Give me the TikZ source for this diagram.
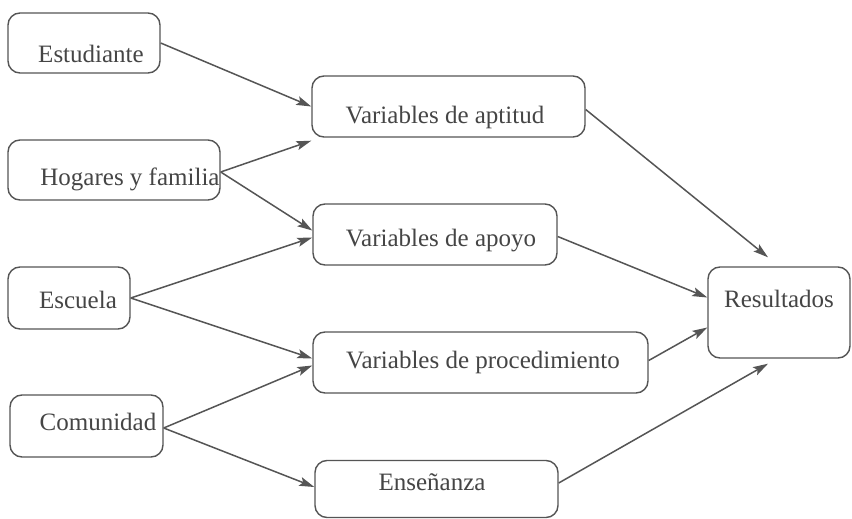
\documentclass[tikz,border=0pt]{standalone}
\usepackage{fontspec}
\setmainfont{Liberation Serif}
\usetikzlibrary{arrows.meta}
\definecolor{ink}{HTML}{454545}
\definecolor{edge}{HTML}{555555}
\begin{document}
\begin{tikzpicture}[x=1pt,y=-1pt,
  box/.style={draw=edge,line width=1.4pt,rounded corners=12pt,inner sep=0pt,fill=white},
  lbl/.style={anchor=base,inner sep=0pt,text=ink,font=\fontsize{25}{30}\selectfont},
  arr/.style={draw=edge,line width=1.5pt,-{Stealth[length=15pt,width=9pt,inset=3pt]}}]
\useasboundingbox[fill=white] (0,0) rectangle (852,519);
% boxes
\node[box,minimum width=152pt,minimum height=60pt] (est) at (84,43) {};
\node[box,minimum width=212pt,minimum height=60pt] (hog) at (114,170) {};
\node[box,minimum width=122pt,minimum height=62pt] (esc) at (69,298) {};
\node[box,minimum width=153pt,minimum height=62pt] (com) at (86.5,426) {};
\node[box,minimum width=273pt,minimum height=61pt] (apt) at (448.5,106.5) {};
\node[box,minimum width=244pt,minimum height=61pt] (apo) at (435,234.5) {};
\node[box,minimum width=335pt,minimum height=61pt] (proc) at (480.5,362.5) {};
\node[box,minimum width=243pt,minimum height=57pt] (ens) at (436.5,489) {};
\node[box,minimum width=142pt,minimum height=91pt] (res) at (779,312.5) {};
% labels
\node[lbl] (tEst) at (91,63) {Estudiante};
\node[lbl] (tHog) at (130,185) {Hogares y familia};
\node[lbl] (tEsc) at (78,308) {Escuela};
\node[lbl] (tCom) at (98,430) {Comunidad};
\node[lbl] (tApt) at (445,123) {Variables de aptitud};
\node[lbl] (tApo) at (441,246) {Variables de apoyo};
\node[lbl] (tProc) at (483,368) {Variables de procedimiento};
\node[lbl] (tEns) at (432,490) {Enseñanza};
\node[lbl] (tRes) at (779,307) {Resultados};
% connectors
\draw[arr] (est.east) -- (apt.west);
\draw[arr] ([yshift=-2pt]hog.east) -- ([yshift=-3pt]apt.south west);
\draw[arr] ([yshift=-2pt]hog.east) -- ([yshift=4pt]apo.west);
\draw[arr] (esc.east) -- ([yshift=-3pt]apo.west);
\draw[arr] (esc.east) -- ([yshift=4pt]proc.west);
\draw[arr] ([yshift=-2pt]com.east) -- ([yshift=-3pt]proc.west);
\draw[arr] ([yshift=-2pt]com.east) -- ([yshift=2pt]ens.west);
\draw[arr] ([yshift=-3pt]apt.east) -- ([xshift=-11pt,yshift=9pt]res.north);
\draw[arr] ([yshift=-2pt]apo.east) -- ([yshift=15pt]res.west);
\draw[arr] ([yshift=2pt]proc.east) -- ([yshift=-15pt]res.west);
\draw[arr] ([yshift=6pt]ens.east) -- ([xshift=-11pt,yshift=-5pt]res.south);
\end{tikzpicture}
\end{document}
